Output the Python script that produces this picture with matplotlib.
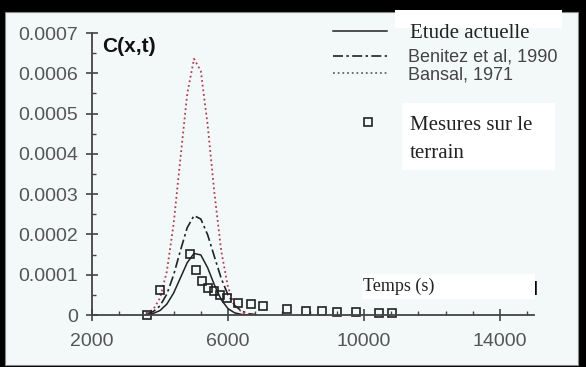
import matplotlib
matplotlib.use('Agg')
import matplotlib.pyplot as plt
from matplotlib.patches import Rectangle
from matplotlib.ticker import FixedLocator, MultipleLocator

plt.rcParams['font.family'] = ['Liberation Sans', 'DejaVu Sans']

# temps (s)
t = [3600, 3800, 4000, 4200, 4400, 4600, 4800, 5000, 5200, 5400,
     5600, 5800, 6000, 6200, 6400, 6600, 6800]
# Etude actuelle
c_etude = [1.1e-6, 3.8e-6, 1.11e-5, 2.69e-5, 5.44e-5, 9.20e-5, 1.298e-4, 1.528e-4, 1.491e-4, 1.175e-4,
           7.46e-5, 3.81e-5, 1.57e-5, 5.2e-6, 1.4e-6, 3e-7, 1e-7]
# Benitez et al, 1990
c_benitez = [2.6e-6, 8.4e-6, 2.27e-5, 5.17e-5, 9.91e-5, 1.598e-4, 2.166e-4, 2.467e-4, 2.383e-4, 1.994e-4,
             1.448e-4, 9.11e-5, 4.97e-5, 2.36e-5, 9.7e-6, 3.4e-6, 1.1e-6]
# Bansal, 1971
c_bansal = [3.6e-6, 1.35e-5, 4.21e-5, 1.075e-4, 2.255e-4, 3.882e-4, 5.485e-4, 6.36e-4, 6.054e-4, 4.73e-4,
            3.032e-4, 1.596e-4, 6.89e-5, 2.45e-5, 7.1e-6, 1.7e-6, 4e-7]

# Mesures sur le terrain
t_mes = [3630, 4000, 4880, 5060, 5230, 5400, 5580, 5750, 5960, 6280,
         6690, 7030, 7740, 8300, 8760, 9200, 9760, 10450, 10810]
c_mes = [0, 6.2e-5, 1.51e-4, 1.12e-4, 8.4e-5, 6.6e-5, 5.9e-5, 5.0e-5, 4.1e-5, 3.0e-5,
         2.7e-5, 2.2e-5, 1.4e-5, 9e-6, 1.1e-5, 7e-6, 7e-6, 4e-6, 4e-6]

xticks = [2000, 6000, 10000, 14000]
yticks = [0, 0.0001, 0.0002, 0.0003, 0.0004, 0.0005, 0.0006, 0.0007]
ytick_labels = ['0', '0.0001', '0.0002', '0.0003', '0.0004', '0.0005', '0.0006', '0.0007']

W, H = 586, 367
fig = plt.figure(figsize=(W / 100, H / 100), dpi=100)
fig.patch.set_facecolor('black')

# fond clair avec cadre noir
fig.patches.append(Rectangle((5 / W, 2 / H), 573 / W, 353 / H, transform=fig.transFigure,
                             facecolor='#f3f8f8', edgecolor='#888888', lw=0.8, zorder=-2))

# cadres blancs des annotations
for (x0, y0, w, h) in [(395, 10, 167, 18), (402, 103, 153, 67), (362, 274, 173, 25)]:
    fig.patches.append(Rectangle((x0 / W, 1 - (y0 + h) / H), w / W, h / H, transform=fig.transFigure,
                                 facecolor='white', edgecolor='none', zorder=-1))

ax = fig.add_axes([92 / W, 52 / H, 442 / W, 282 / H])
ax.set_zorder(1)
ax.patch.set_visible(False)

l1, = ax.plot(t, c_etude, color='#222222', lw=1.1, label='Etude actuelle')
l2, = ax.plot(t, c_benitez, color='#222222', lw=1.2, ls=(0, (6, 2, 1.5, 2)), label='Benitez et al, 1990')
l3, = ax.plot(t, c_bansal, color='#b0404f', lw=1.3, ls=(0, (1, 1.6)), label='Bansal, 1971')
l4, = ax.plot(t_mes, c_mes, ls='none', marker='s', ms=6, mfc='none', mec='#222222', mew=1.2,
              clip_on=False, label='Mesures sur le')

ax.set_xlim(2000, 15000)
ax.set_ylim(0, 0.0007)
for s in ['top', 'right']:
    ax.spines[s].set_visible(False)
for s in ['left', 'bottom']:
    ax.spines[s].set_color('#444444')
    ax.spines[s].set_linewidth(1.3)

ax.set_xticks(xticks)
ax.xaxis.set_minor_locator(FixedLocator(list(range(2000, 15001, 800))))
ax.set_yticks(yticks)
ax.set_yticklabels(ytick_labels)
ax.yaxis.set_minor_locator(MultipleLocator(0.00005))
ax.tick_params(axis='both', which='major', direction='inout', length=8, width=1.2,
               colors='#444444', labelsize=14, labelcolor='#555555')
ax.tick_params(axis='x', which='major', pad=9)
ax.tick_params(axis='y', which='major', pad=6)
ax.tick_params(axis='both', which='minor', direction='in', length=3, width=1, colors='#444444')

# étiquette de l'axe y
fig.text(102 / W, 1 - 47 / H, 'C(x,t)', fontsize=15, fontweight='bold', color='#111111',
         ha='left', va='center')

leg1 = ax.legend(handles=[l1], loc='center left', bbox_to_anchor=(333 / W, 1 - 33 / H),
                 bbox_transform=fig.transFigure, frameon=False, borderpad=0, borderaxespad=0,
                 handlelength=2.6, handletextpad=1.1,
                 prop={'family': 'Liberation Serif', 'size': 15})
leg1.get_texts()[0].set_color('#222222')
ax.add_artist(leg1)

leg2 = ax.legend(handles=[l2, l3], loc='center left', bbox_to_anchor=(333 / W, 1 - 66 / H),
                 bbox_transform=fig.transFigure, frameon=False, borderpad=0, borderaxespad=0,
                 handlelength=3.0, handletextpad=1.15, labelspacing=0.0,
                 prop={'family': 'Liberation Sans', 'size': 13})
for tx in leg2.get_texts():
    tx.set_color('#444444')
leg2.get_lines()[1].set_color('#666666')
ax.add_artist(leg2)

leg3 = ax.legend(handles=[l4], loc='center left', bbox_to_anchor=(360 / W, 1 - 125 / H),
                 bbox_transform=fig.transFigure, frameon=False, borderpad=0, borderaxespad=0,
                 handlelength=0.8, handletextpad=1.6,
                 prop={'family': 'Liberation Serif', 'size': 15})
leg3.get_texts()[0].set_color('#222222')
fig.text(410 / W, 1 - 153 / H, 'terrain', fontsize=15, family='Liberation Serif', color='#222222',
         ha='left', va='center', zorder=3)

# étiquette de l'axe x
fig.text(363 / W, 1 - 286 / H, 'Temps (s)', fontsize=13, family='Liberation Serif', color='#222222',
         ha='left', va='center', zorder=3)
fig.text(536 / W, 1 - 288 / H, '|', fontsize=10, fontweight='bold', color='black',
         ha='center', va='center', zorder=3)

fig.savefig('out.png', dpi=100, facecolor=fig.get_facecolor())
